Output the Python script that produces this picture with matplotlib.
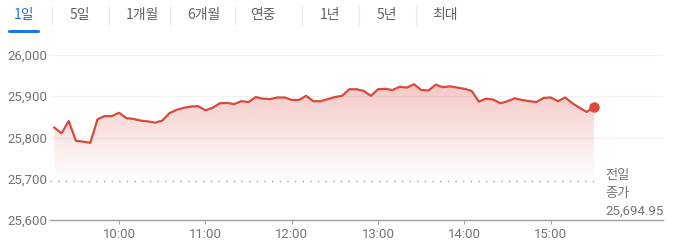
import numpy as np
import matplotlib
matplotlib.use("Agg")
import matplotlib.pyplot as plt
from matplotlib.patches import FancyBboxPatch

plt.rcParams['font.family'] = ['Roboto', 'Noto Sans CJK KR', 'DejaVu Sans']

# ---- data ----
tabs = ["1일", "5일", "1개월", "6개월", "연중", "1년", "5년", "최대"]
start_hour = 9.25          # 09:15
step_minutes = 5
values = [25824, 25810, 25840, 25792, 25790, 25787, 25844, 25852, 25852, 25860,
          25847, 25845, 25841, 25839, 25836, 25841, 25859, 25867, 25872, 25875,
          25876, 25866, 25872, 25883, 25884, 25881, 25888, 25886, 25898, 25894,
          25893, 25897, 25897, 25891, 25891, 25901, 25888, 25888, 25893, 25898,
          25901, 25917, 25917, 25913, 25901, 25917, 25918, 25915, 25923, 25921,
          25929, 25915, 25914, 25928, 25922, 25924, 25921, 25918, 25913, 25887,
          25894, 25892, 25883, 25888, 25895, 25891, 25888, 25886, 25896, 25897,
          25888, 25897, 25883, 25872, 25862, 25874]
prev_close = 25694.95
prev_close_label = ["전일", "종가", "25,694.95"]
y_ticks = [25600, 25700, 25800, 25900, 26000]
x_ticks = [10, 11, 12, 13, 14, 15]
x_labels = ["10:00", "11:00", "12:00", "13:00", "14:00", "15:00"]

times = start_hour + np.arange(len(values)) * step_minutes / 60.0
vals = np.array(values, dtype=float)

W, H = 680, 245
fig = plt.figure(figsize=(W / 100, H / 100), dpi=100)

# ---- tabs ----
tab_x = [24, 80, 142, 204, 263, 330, 387, 445]
sep_x = [52, 109, 170, 235, 302, 359, 416]
for i, (t, x) in enumerate(zip(tabs, tab_x)):
    fig.text(x / W, 1 - 15 / H, t, ha='center', va='center', fontsize=10,
             color='#1a73e8' if i == 0 else '#5f6368',
             fontweight='medium' if i == 0 else 'normal',
             family=['Noto Sans CJK KR', 'DejaVu Sans'])
for x in sep_x:
    fig.add_artist(plt.Line2D([x / W, x / W], [1 - 6 / H, 1 - 25 / H],
                              color='#e8eaed', lw=0.8, transform=fig.transFigure))
fig.add_artist(FancyBboxPatch((8 / W, 1 - 33 / H), 32 / W, 3 / H,
                              boxstyle="round,pad=0,rounding_size=0.004",
                              transform=fig.transFigure, color='#1a73e8', lw=0))

# ---- axes ----
ax = fig.add_axes([50 / W, 1 - 220 / H, 613 / W, 165 / H])
ax.set_xlim(9.2, 16.3)
ax.set_ylim(25600, 26000)

line_color = '#d9493c'

# gradient fill (clipped to area under the line)
top = vals.max()
rgba = np.zeros((256, 1, 4))
rgba[..., 0] = 0.85
rgba[..., 1] = 0.29
rgba[..., 2] = 0.24
rgba[..., 3] = (0.30 * np.linspace(1, 0.0, 256)).reshape(-1, 1)
im = ax.imshow(rgba, extent=[times[0], times[-1], prev_close, top],
               aspect='auto', origin='upper', zorder=1, interpolation='bilinear')
poly = ax.fill_between(times, vals, prev_close, color='none', lw=0)
clip = poly.get_paths()[0]
im.set_clip_path(clip, transform=ax.transData)

ax.plot(times, vals, color=line_color, lw=1.6, zorder=3, solid_joinstyle='round')
ax.plot(times[-1], vals[-1], 'o', color='#e0443a', ms=6.5, zorder=4)

# prev close dotted line
ax.plot([9.2, times[-1] + 0.03], [prev_close, prev_close], color='#9aa0a6',
        lw=1.0, ls=(0, (1, 4.5)), zorder=2)

# grid
for yv in y_ticks[1:]:
    if yv == 25700:
        continue
    ax.axhline(yv, color='#f1f3f4', lw=0.9, zorder=0)
ax.set_yticks(y_ticks)
ax.set_yticklabels([f"{v:,}" for v in y_ticks])
ax.set_xticks(x_ticks)
ax.set_xticklabels(x_labels)
ax.tick_params(axis='y', length=0, pad=2, labelsize=9.5, labelcolor='#70757a')
ax.tick_params(axis='x', length=3, width=0.8, color='#9aa0a6', pad=3,
               labelsize=9.5, labelcolor='#70757a')
for s in ['top', 'right', 'left']:
    ax.spines[s].set_visible(False)
ax.spines['bottom'].set_color('#9aa0a6')
ax.spines['bottom'].set_linewidth(1.0)

# prev close label
for txt, yy in zip(prev_close_label, [176, 194, 211]):
    fig.text(605 / W, 1 - yy / H, txt, ha='left', va='center', fontsize=9.5,
             color='#70757a',
             family=['Noto Sans CJK KR', 'DejaVu Sans'] if txt != prev_close_label[2] else ['Roboto'])

fig.savefig('out.png', dpi=100)
